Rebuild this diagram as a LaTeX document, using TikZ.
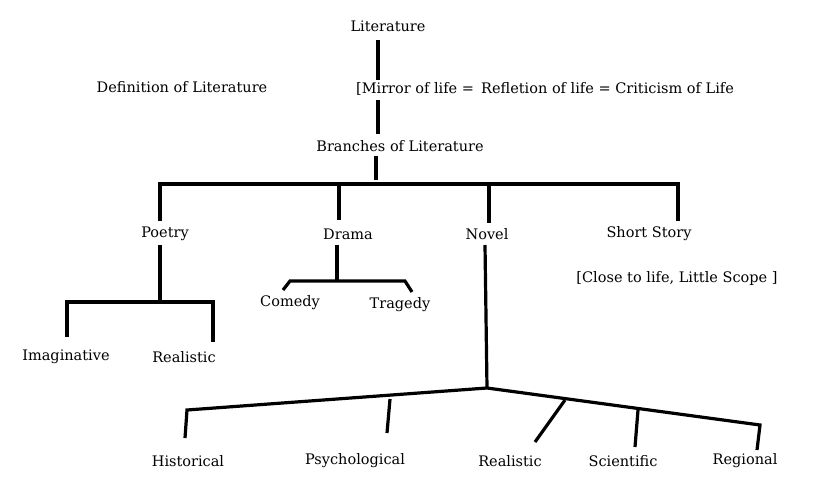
\documentclass[tikz,border=0pt]{standalone}
\usepackage{fontspec}
\setmainfont{DejaVu Serif}
\begin{document}
\begin{tikzpicture}[x=1pt,y=-1pt,line width=3.2pt,
  lbl/.style={font=\fontsize{14.5}{16}\selectfont,inner sep=0pt}]
\useasboundingbox (0,0) rectangle (832,498);
\node[lbl] (lit) at (388,26) {Literature};
\node[lbl] (def) at (182,87) {Definition of Literature};
\node[lbl] (mir) at (545,89) {[Mirror of life =\, Refletion of life = Criticism of Life};
\node[lbl] (br) at (400,146) {Branches of Literature};
\node[lbl] (po) at (165,234) {Poetry};
\node[lbl] (dr) at (348,234) {Drama};
\node[lbl] (no) at (487,234) {Novel};
\node[lbl] (ss) at (649,234) {Short Story};
\node[lbl] (cl) at (677,278) {[Close to life, Little Scope ]};
\node[lbl] (im) at (66,357) {Imaginative};
\node[lbl] (re) at (184,357) {Realistic};
\node[lbl] (co) at (290,303) {Comedy};
\node[lbl] (tr) at (400,305) {Tragedy};
\node[lbl] (hi) at (188,461) {Historical};
\node[lbl] (ps) at (355,461) {Psychological};
\node[lbl] (rn) at (510,461) {Realistic};
\node[lbl] (sc) at (623,461) {Scientific};
\node[lbl] (rg) at (745,461) {Regional};
\coordinate (nj) at (487,388);
\draw (378,40) -- (378,80);
\draw (378,100) -- (378,134);
\draw (376,156) -- (376,180);
\draw (160,221) -- (160,184) -- (678,184) -- (678,221);
\draw (339,184) -- (339,220);
\draw (489,184) -- (489,223);
\draw (160,245) -- (160,302);
\draw (67,337) -- (67,302) -- (213,302) -- (213,342);
\draw (337,245) -- (337,280);
\draw (283,290) -- (290,281) -- (405,281) -- (412,292);
\draw (485,245) -- (nj);
\draw (185,438) -- (187,410) -- (nj) -- (760,425) -- (757,450);
\draw (390,399) -- (387,433);
\draw (565,400) -- (535,442);
\draw (638,410) -- (635,447);
\end{tikzpicture}
\end{document}
